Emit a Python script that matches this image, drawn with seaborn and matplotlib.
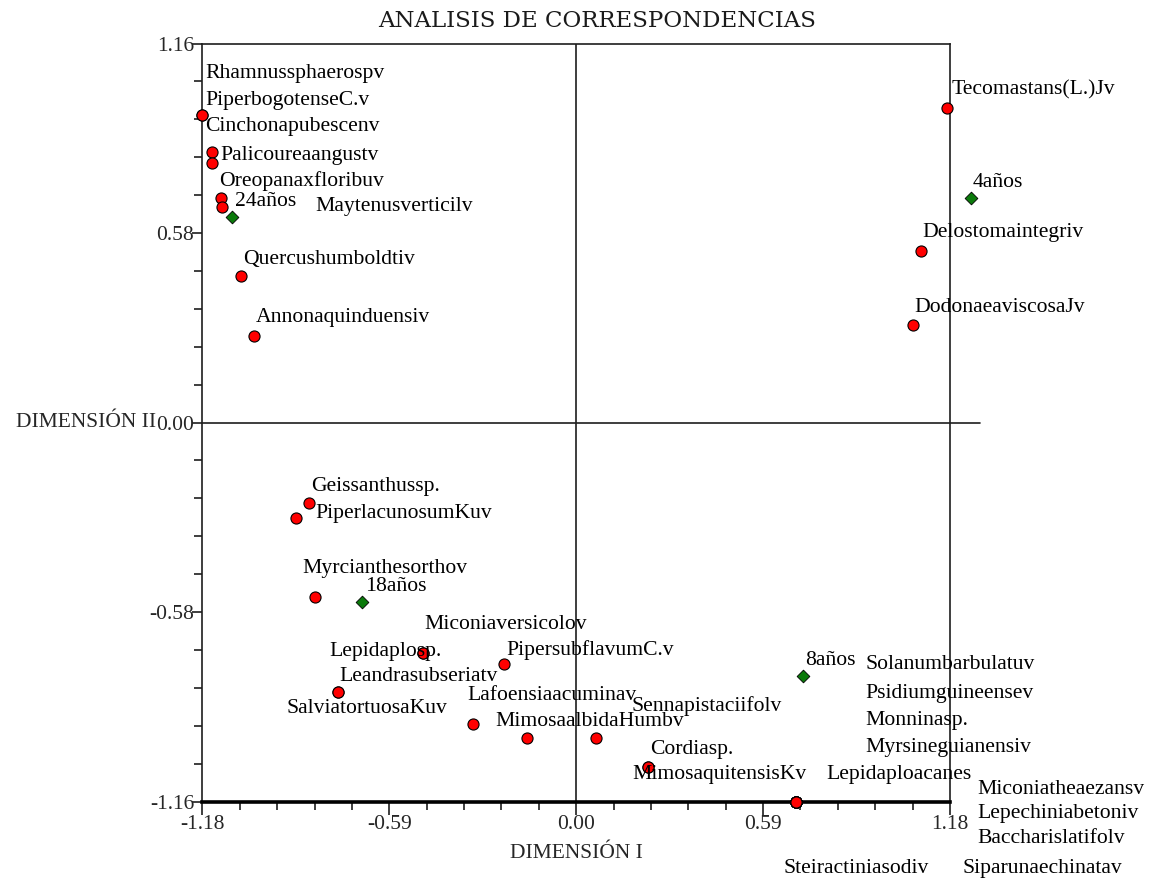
import numpy as np
import pandas as pd
import matplotlib
matplotlib.use("Agg")
import matplotlib.pyplot as plt
from matplotlib.ticker import FixedLocator
import seaborn as sns

# ---- data: correspondence analysis scores ----
species = [
    "Rhamnussphaerospv", "PiperbogotenseC.v", "Cinchonapubescenv", "Palicoureaangustv",
    "Oreopanaxfloribuv", "Maytenusverticilv", "Quercushumboldtiv", "Annonaquinduensiv",
    "Tecomastans(L.)Jv", "Delostomaintegriv", "DodonaeaviscosaJv",
    "Geissanthussp.", "PiperlacunosumKuv", "Myrcianthesorthov",
    "Lepidaplosp.", "Miconiaversicolov", "PipersubflavumC.v",
    "Leandrasubseriatv", "SalviatortuosaKuv", "Lafoensiaacuminav",
    "MimosaalbidaHumbv", "Sennapistaciifolv", "Cordiasp.", "MimosaquitensisKv",
    "Lepidaploacanes", "Solanumbarbulatuv", "Psidiumguineensev", "Monninasp.",
    "Myrsineguianensiv", "Miconiatheaezansv", "Lepechiniabetoniv",
    "Baccharislatifolv", "Siparunaechinatav", "Steiractiniasodiv",
]
species_dim1 = [
    -1.181, -1.181, -1.151, -1.149,
    -1.120, -1.118, -1.060, -1.017,
    1.172, 1.088, 1.062,
    -0.843, -0.886, -0.825,
    -0.485, -0.485, -0.228,
    -0.753, -0.753, -0.327,
    -0.156, 0.061, 0.228, 0.228,
    0.694, 0.694, 0.694, 0.694,
    0.694, 0.694, 0.694,
    0.694, 0.694, 0.694,
]
species_dim2 = [
    0.941, 0.941, 0.829, 0.793,
    0.686, 0.661, 0.448, 0.266,
    0.964, 0.525, 0.298,
    -0.245, -0.291, -0.533,
    -0.706, -0.706, -0.740,
    -0.824, -0.824, -0.924,
    -0.967, -0.967, -1.054, -1.054,
    -1.160, -1.160, -1.160, -1.160,
    -1.160, -1.160, -1.160,
    -1.160, -1.160, -1.160,
]

sites = ["24años", "4años", "18años", "8años"]
site_dim1 = [-1.088, 1.246, -0.677, 0.717]
site_dim2 = [0.628, 0.688, -0.550, -0.775]

x_ticks = [-1.18, -0.59, 0.00, 0.59, 1.18]
x_tick_labels = ["-1.18", "-0.59", "0.00", "0.59", "1.18"]
y_ticks = [-1.16, -0.58, 0.00, 0.58, 1.16]
y_tick_labels = ["-1.16", "-0.58", "0.00", "0.58", "1.16"]

# ---- label layout: offsets (pixels, right / up) from each marker ----
species_label_offsets = [
    (3, 42), (3, 15), (-7, 25), (8, 8),
    (-2, 17), (93, 0), (3, 17), (2, 18),
    (4, 18), (1, 18), (2, 18),
    (2, 16), (20, 4), (-13, 28),
    (-93, 2), (2, 29), (2, 14),
    (2, 15), (-51, -17), (-5, 29),
    (-32, 17), (36, 32), (2, 17), (-16, -8),
    (30, 27), (69, 137), (69, 108), (69, 81),
    (69, 54), (181, 12), (181, -12),
    (181, -37), (166, -67), (-13, -67),
]
site_label_offsets = [(3, 16), (2, 15), (3, 16), (2, 15)]

sns.set_theme(style="white")
plt.rcParams["font.family"] = ["Liberation Serif", "DejaVu Serif"]

fig = plt.figure(figsize=(11.51, 8.86), dpi=100)
ax = fig.add_axes([0.17593, 0.09537, 0.64944, 0.85553])

df_species = pd.DataFrame({"dim1": species_dim1, "dim2": species_dim2, "name": species})
df_sites = pd.DataFrame({"dim1": site_dim1, "dim2": site_dim2, "name": sites})

# reference axes through the origin
line_col = "#1e1e1e"
ax.plot([-1.18, 1.275], [0, 0], color=line_col, lw=1.2, clip_on=False, zorder=1)
ax.axvline(0, color=line_col, lw=1.2, zorder=1)

sns.scatterplot(data=df_species, x="dim1", y="dim2", ax=ax, color="#ff0000",
                edgecolor="black", linewidth=0.8, s=64, marker="o",
                legend=False, clip_on=False, zorder=3)
sns.scatterplot(data=df_sites, x="dim1", y="dim2", ax=ax, color="#0b7a0b",
                edgecolor="black", linewidth=0.6, s=42, marker="D",
                legend=False, clip_on=False, zorder=3)

label_size = 15.6
for name, x, y, (dx, dy) in zip(species, species_dim1, species_dim2, species_label_offsets):
    ax.annotate(name, xy=(x, y), xytext=(dx, dy), textcoords="offset pixels",
                ha="left", va="center", fontsize=label_size, color="black",
                annotation_clip=False, zorder=4)
for name, x, y, (dx, dy) in zip(sites, site_dim1, site_dim2, site_label_offsets):
    ax.annotate(name, xy=(x, y), xytext=(dx, dy), textcoords="offset pixels",
                ha="left", va="center", fontsize=label_size, color="black",
                annotation_clip=False, zorder=4)

ax.set_xlim(-1.18, 1.18)
ax.set_ylim(-1.16, 1.16)

ax.set_xticks(x_ticks)
ax.set_xticklabels(x_tick_labels)
ax.set_yticks(y_ticks)
ax.set_yticklabels(y_tick_labels)
ax.xaxis.set_minor_locator(FixedLocator(np.linspace(-1.18, 1.18, 21)))
ax.yaxis.set_minor_locator(FixedLocator(np.linspace(-1.16, 1.16, 21)))

ax.tick_params(axis="x", which="major", direction="out", length=9, width=1.2,
               color=line_col, labelsize=15.5, pad=1, bottom=True)
ax.tick_params(axis="x", which="minor", direction="out", length=6, width=1.2,
               color=line_col, bottom=True)
ax.tick_params(axis="y", which="major", direction="out", length=7, width=1.2,
               color=line_col, labelsize=15.5, pad=-1, left=True)
ax.tick_params(axis="y", which="minor", direction="out", length=5.5, width=1.2,
               color=line_col, left=True)

for side in ["left", "top", "right"]:
    ax.spines[side].set_visible(True)
    ax.spines[side].set_color(line_col)
    ax.spines[side].set_linewidth(1.2)
ax.spines["bottom"].set_visible(True)
ax.spines["bottom"].set_color("black")
ax.spines["bottom"].set_linewidth(2.6)

ax.set_xlabel("DIMENSIÓN I", fontsize=15.5)
ax.xaxis.set_label_coords(0.5, -0.068)
ax.xaxis.label.set_va("center")

ax.set_ylabel("DIMENSIÓN II", fontsize=15.5, rotation=0, ha="right", va="center")
ax.yaxis.set_label_coords(-0.0615, 0.5)

fig.text(0.5187, 0.976, "ANALISIS DE CORRESPONDENCIAS", ha="center", va="center",
         fontsize=16.5, family=["DejaVu Serif"], color="#1a1a1a")

fig.savefig("out.png", dpi=100)
